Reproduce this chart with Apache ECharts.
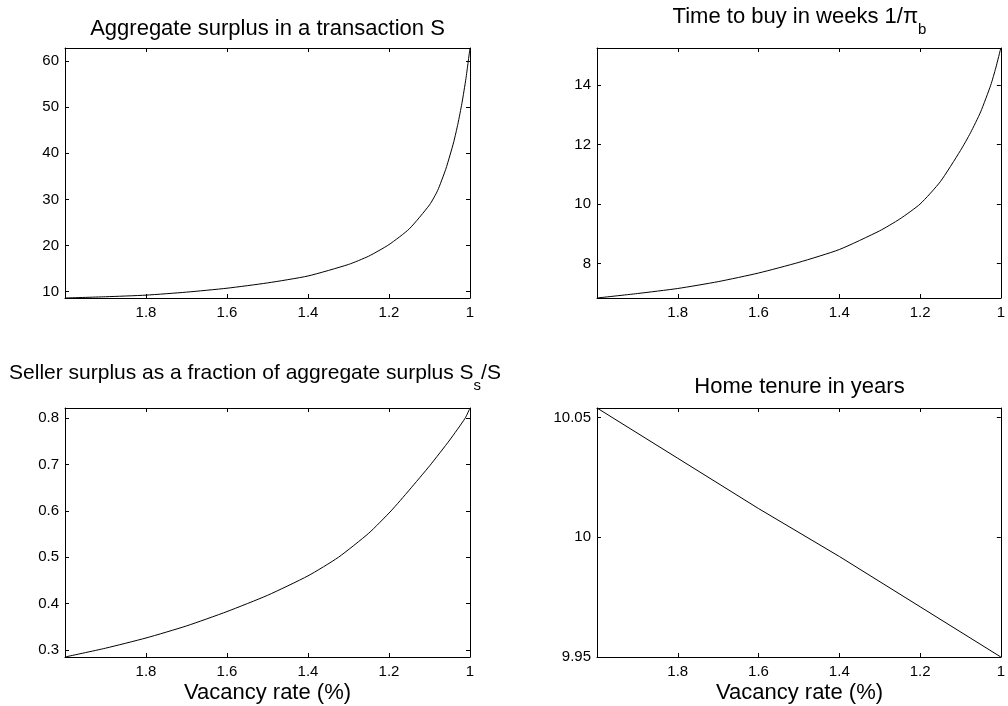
<!DOCTYPE html>
<html>
<head>
<meta charset="utf-8">
<script src="https://cdn.jsdelivr.net/npm/echarts@6/dist/echarts.min.js"></script>
<style>
  html, body { margin: 0; padding: 0; background: #fff; }
  #main { width: 1008px; height: 706px; }
</style>
</head>
<body>
<div id="main"></div>
<script>
// Vacancy rate (%) on the horizontal axis of every panel, drawn from high to low
const vacancySurplus = [2.0, 1.9, 1.8, 1.7, 1.6, 1.5, 1.4, 1.3, 1.25, 1.2, 1.15, 1.1, 1.08, 1.06, 1.05, 1.04, 1.03, 1.02, 1.01, 1.0];
const aggregateSurplus = [8.63, 8.9, 9.25, 9.9, 10.75, 11.9, 13.4, 15.9, 17.7, 20.2, 23.6, 28.8, 31.9, 36.5, 39.4, 42.5, 46.3, 50.8, 56.2, 62.8];

const vacancyBuy = [2.0, 1.9, 1.8, 1.7, 1.6, 1.5, 1.4, 1.3, 1.25, 1.2, 1.15, 1.1, 1.075, 1.05, 1.025, 1.0125, 1.0];
const weeksToBuy = [6.84, 6.99, 7.16, 7.39, 7.68, 8.04, 8.47, 9.1, 9.5, 10.0, 10.75, 11.8, 12.4, 13.1, 14.0, 14.58, 15.25];

const vacancyShare = [2.0, 1.9, 1.8, 1.7, 1.6, 1.5, 1.4, 1.325, 1.25, 1.195, 1.15, 1.099, 1.05, 1.012, 1.0];
const sellerShare = [0.285, 0.304, 0.326, 0.352, 0.383, 0.418, 0.46, 0.5, 0.552, 0.6, 0.645, 0.698, 0.753, 0.8, 0.822];

const vacancyTenure = [2.0, 1.8, 1.6, 1.4, 1.2, 1.0];
const tenureYears = [10.054, 10.033, 10.012, 9.992, 9.971, 9.950];

// Tick marks
const yTicksSurplus = [10, 20, 30, 40, 50, 60];
const yTicksBuy = [8, 10, 12, 14];
const yTicksShare = [0.3, 0.4, 0.5, 0.6, 0.7, 0.8];
const yTicksTenure = [9.95, 10, 10.05];

// Text
const titleSurplus = 'Aggregate surplus in a transaction S';
const titleBuy = '{m|Time to buy in weeks 1/π}{s|b}';
const titleShare = '{n|Seller surplus as a fraction of aggregate surplus S}{s|s}{n|/S}';
const titleTenure = 'Home tenure in years';
const xName = 'Vacancy rate (%)';

const FONT = "'Liberation Sans', Arial, Helvetica, sans-serif";
const INK = '#000';

const grids = [
  { left: 65, top: 48, width: 405, height: 250 },
  { left: 597, top: 48, width: 405, height: 250 },
  { left: 65, top: 408, width: 405, height: 249 },
  { left: 597, top: 408, width: 405, height: 249 }
];

const panels = [
  { x: vacancySurplus, y: aggregateSurplus, ticks: yTicksSurplus, smooth: 0.2 },
  { x: vacancyBuy, y: weeksToBuy, ticks: yTicksBuy, smooth: 0.2 },
  { x: vacancyShare, y: sellerShare, ticks: yTicksShare, smooth: 0.2 },
  { x: vacancyTenure, y: tenureYears, ticks: yTicksTenure, smooth: false }
];

const lineStyle = { color: INK, width: 1 };
const xAxis = [];
const yAxis = [];
const series = [];

panels.forEach((p, i) => {
  const xBase = {
    type: 'value', gridIndex: i, min: 1, max: 2, interval: 0.2, inverse: true,
    axisLine: { show: true, onZero: false, lineStyle },
    axisTick: { show: true, inside: true, length: 4, lineStyle },
    splitLine: { show: false }
  };
  xAxis.push(Object.assign({}, xBase, {
    position: 'bottom',
    axisLabel: {
      show: true, margin: 7, fontSize: 15, color: INK, fontFamily: FONT,
      formatter: v => (v > 1.99 ? '' : String(+v.toFixed(1)))
    }
  }));
  xAxis.push(Object.assign({}, xBase, { position: 'top', axisLabel: { show: false } }));

  const lo = Math.min(...p.y);
  const hi = Math.max(...p.y);
  const yBase = {
    type: 'value', gridIndex: i, min: lo, max: hi,
    axisLine: { show: true, onZero: false, lineStyle },
    axisTick: { show: true, inside: true, length: 4, customValues: p.ticks, lineStyle },
    splitLine: { show: false }
  };
  yAxis.push(Object.assign({}, yBase, {
    position: 'left',
    axisLabel: { show: true, customValues: p.ticks, margin: 6, fontSize: 15, color: INK, fontFamily: FONT }
  }));
  yAxis.push(Object.assign({}, yBase, { position: 'right', axisLabel: { show: false } }));

  series.push({
    type: 'line',
    xAxisIndex: 2 * i,
    yAxisIndex: 2 * i,
    data: p.x.map((v, k) => [v, p.y[k]]),
    showSymbol: false,
    smooth: p.smooth,
    lineStyle: { color: INK, width: 1 },
    silent: true,
    animation: false
  });
});

const textStyle = {
  fontSize: 22, lineHeight: 24, color: INK, fontFamily: FONT, fontWeight: 'normal',
  rich: {
    m: { fontSize: 22, lineHeight: 24, verticalAlign: 'top', color: INK, fontFamily: FONT },
    n: { fontSize: 21, lineHeight: 24, verticalAlign: 'top', color: INK, fontFamily: FONT },
    s: { fontSize: 15, lineHeight: 15, verticalAlign: 'top', padding: [16, 0, 0, 0], color: INK, fontFamily: FONT }
  }
};

function label(text, cx, top) {
  return { text, left: cx, top, textAlign: 'center', padding: 0, itemGap: 0, textStyle };
}

const option = {
  backgroundColor: '#fff',
  animation: false,
  title: [
    label(titleSurplus, 267.5, 16.8),
    label(titleBuy, 799.5, 6.1),
    label(titleShare, 255, 362.6),
    label(titleTenure, 799.5, 375.4),
    label(xName, 267.5, 681.1),
    label(xName, 799.5, 681.1)
  ],
  grid: grids,
  xAxis,
  yAxis,
  series
};

const chart = echarts.init(document.getElementById('main'), null, { renderer: 'canvas' });
chart.setOption(option);
</script>
</body>
</html>
